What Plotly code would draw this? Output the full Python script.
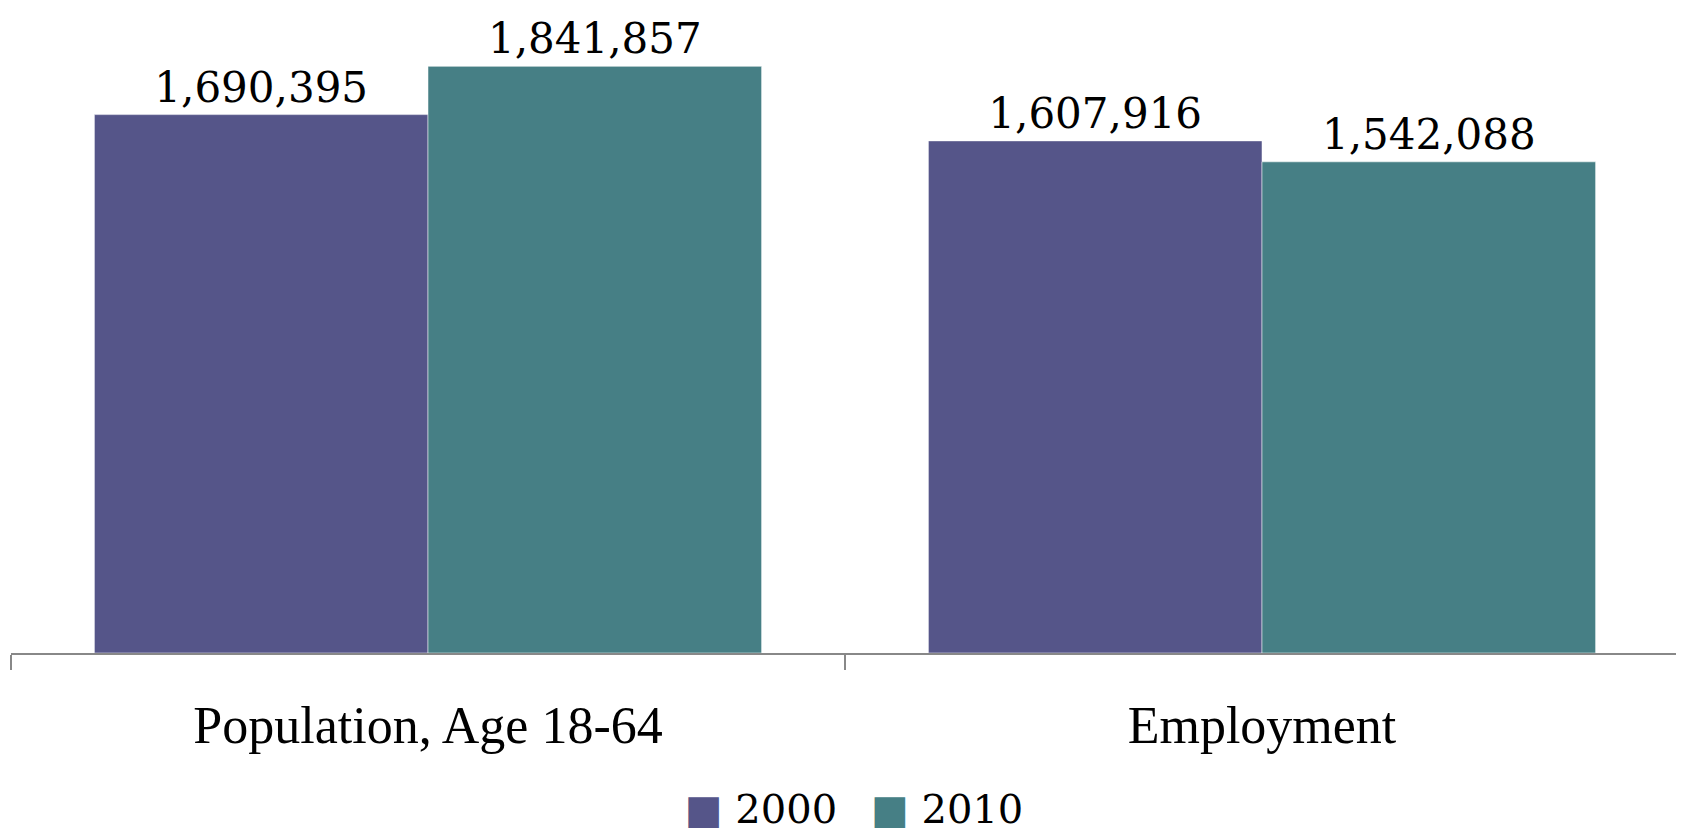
import plotly.graph_objects as go

categories = ["Population, Age 18-64", "Employment"]
years = ["2000", "2010"]
values_2000 = [1690395, 1607916]
values_2010 = [1841857, 1542088]
colors = {"2000": "#555589", "2010": "#467F85"}

fig = go.Figure()
for name, vals, leg in [("2000", values_2000, "legend"), ("2010", values_2010, "legend2")]:
    fig.add_trace(go.Bar(
        x=categories, y=vals, name=name,
        marker=dict(color=colors[name], line=dict(color="rgba(255,255,255,0.5)", width=1)),
        text=[f"{v:,}" for v in vals], textposition="outside",
        textfont=dict(family="DejaVu Serif", size=42, color="black"),
        cliponaxis=False, showlegend=False,
    ))
    fig.add_trace(go.Scatter(
        x=[None], y=[None], mode="markers", legend=leg,
        name=f"<span style='color:{colors[name]};font-size:40px'>■</span> {name}",
        marker=dict(symbol="square", size=2, color="rgba(0,0,0,0)"),
    ))

legend_style = dict(orientation="h", xanchor="left", y=-0.242, yanchor="middle",
                    font=dict(family="DejaVu Serif", size=40), itemwidth=30,
                    bgcolor="rgba(0,0,0,0)")

fig.update_layout(
    width=1676, height=825,
    margin=dict(l=3, r=5, t=8, b=180, autoexpand=False),
    plot_bgcolor="white", paper_bgcolor="white",
    barmode="group", bargap=0.2, bargroupgap=0,
    font=dict(family="Liberation Serif", color="black"),
    legend=dict(x=0.380, **legend_style),
    legend2=dict(x=0.4916, **legend_style),
)
fig.update_xaxes(
    showline=True, linecolor="#888888", linewidth=2,
    ticks="outside", tickson="boundaries", ticklen=15, tickcolor="#888888", tickwidth=2,
    tickfont=dict(family="Liberation Serif", size=52, color="black"),
    ticklabelstandoff=26, showgrid=False, automargin=False,
)
fig.update_yaxes(range=[0, 2000000], visible=False, showgrid=False, automargin=False)

fig.write_html("out.html")
